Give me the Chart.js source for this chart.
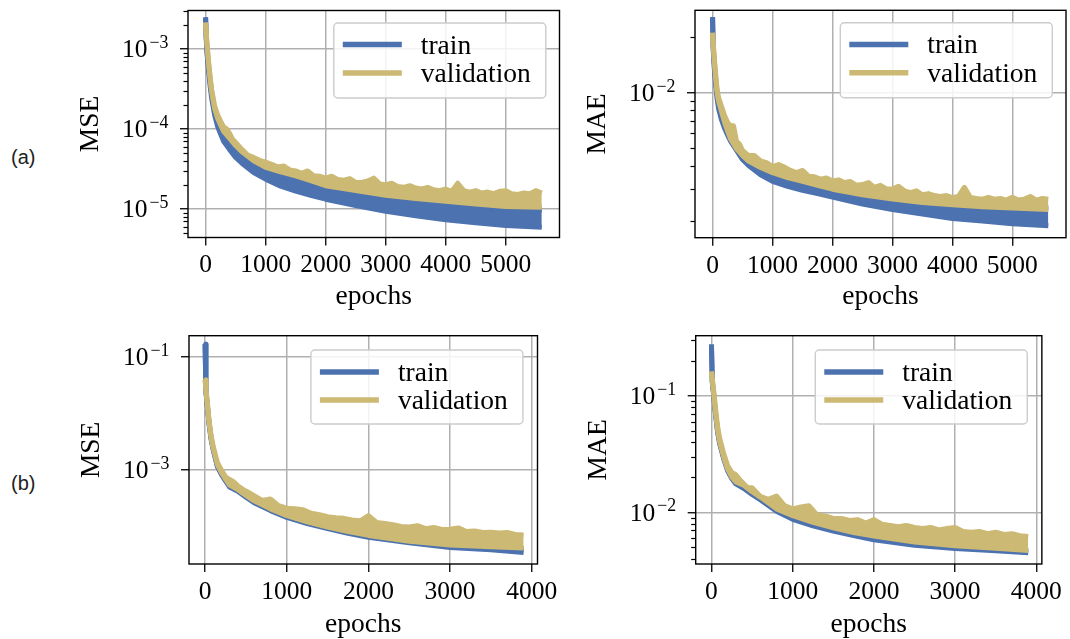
<!DOCTYPE html>
<html>
<head>
<meta charset="utf-8">
<title>training curves</title>
<script src="https://cdn.jsdelivr.net/npm/chart.js@4.4.1/dist/chart.umd.min.js"></script>
<style>
  html, body { margin: 0; padding: 0; background: #ffffff; }
  body { position: relative; width: 1070px; height: 639px; overflow: hidden; }
  canvas { position: absolute; }
  .tag { position: absolute; font-family: "Liberation Sans", sans-serif; font-size: 20px; line-height: 22px; color: #222; }
</style>
</head>
<body>
<div class="tag" style="left:11px; top:146px">(a)</div>
<div class="tag" style="left:11px; top:472px">(b)</div>
<canvas id="mseA" width="575" height="320" style="left:0px; top:0px"></canvas>
<canvas id="maeA" width="495" height="320" style="left:575px; top:0px"></canvas>
<canvas id="mseB" width="575" height="319" style="left:0px; top:320px"></canvas>
<canvas id="maeB" width="495" height="319" style="left:575px; top:320px"></canvas>
<script>
const seriesNames = ["train", "validation"];
const seriesColors = ["#4C72B0", "#CCB974"];

// Each curve is a thick, noisy line. It is kept as the lowest and highest
// course of its centre line, read off the picture, and stroked 5px wide.

// row (a): about 5600 epochs
const epochsA = [0, 10, 25, 50, 75, 100, 150, 200, 250, 300, 400, 500, 600, 800, 1000, 1250, 1500, 1750, 2000, 2500, 3000, 3500, 4000, 4500, 5000, 5600];
const epochsFineA = [0, 10, 25, 50, 75, 100, 150, 200, 250, 300, 350, 400, 450, 500,
  600, 700, 800, 900, 1000, 1100, 1200, 1300, 1400, 1500, 1600, 1700, 1800, 1900, 2000,
  2100, 2200, 2300, 2400, 2500, 2600, 2700, 2800, 2900, 3000, 3100, 3200, 3300, 3400, 3500,
  3600, 3700, 3800, 3900, 4000, 4100, 4200, 4300, 4400, 4500, 4600, 4700, 4800, 4900, 5000,
  5100, 5200, 5300, 5400, 5500, 5600];
const xTicksA = [0, 1000, 2000, 3000, 4000, 5000];

const mseTrainLowA = [2.49e-3, 1.35e-3, 8.6e-4, 5.3e-4, 3.5e-4, 2.45e-4, 1.5e-4, 1.08e-4, 8.6e-5, 7.0e-5, 5.5e-5, 4.4e-5, 3.75e-5, 2.85e-5, 2.35e-5, 1.92e-5, 1.67e-5, 1.48e-5, 1.32e-5, 1.1e-5, 9.3e-6, 8.2e-6, 7.3e-6, 6.7e-6, 6.2e-6, 5.9e-6];
const mseTrainHighA = [2.49e-3, 1.45e-3, 9.2e-4, 5.8e-4, 3.9e-4, 2.7e-4, 1.65e-4, 1.22e-4, 1.0e-4, 8.6e-5, 6.8e-5, 5.5e-5, 4.7e-5, 3.6e-5, 2.95e-5, 2.6e-5, 2.3e-5, 2.05e-5, 1.8e-5, 1.55e-5, 1.36e-5, 1.24e-5, 1.13e-5, 1.06e-5, 1.0e-5, 9.7e-6];
const mseValLowA = [2.1e-3, 1.55e-3, 1.08e-3, 6.6e-4, 4.3e-4, 2.95e-4, 1.8e-4, 1.36e-4, 1.12e-4, 9.3e-5, 7.6e-5, 6.2e-5, 5.2e-5, 4.0e-5, 3.3e-5, 2.9e-5, 2.58e-5, 2.26e-5, 1.95e-5, 1.7e-5, 1.48e-5, 1.35e-5, 1.24e-5, 1.15e-5, 1.07e-5, 1.05e-5];
const mseValHighA = [2.15e-3, 1.65e-3, 1.15e-3, 7.0e-4, 4.6e-4, 3.15e-4, 1.95e-4, 1.5e-4, 1.25e-4, 1.06e-4, 1.0e-4, 8.8e-5, 7.4e-5, 6.8e-5,
  5.6e-5, 4.7e-5, 4.4e-5, 4.05e-5, 3.85e-5, 3.6e-5, 3.35e-5, 3.44e-5, 3.07e-5, 2.98e-5, 2.79e-5, 2.98e-5, 2.6e-5, 2.56e-5, 2.42e-5,
  2.56e-5, 2.33e-5, 2.28e-5, 2.39e-5, 2.14e-5, 2.14e-5, 2.23e-5, 2.42e-5, 2.05e-5, 2.0e-5, 2.09e-5, 1.91e-5, 1.86e-5, 1.95e-5, 1.82e-5,
  1.77e-5, 1.86e-5, 1.73e-5, 1.69e-5, 1.77e-5, 1.66e-5, 2.09e-5, 1.69e-5, 1.62e-5, 1.69e-5, 1.58e-5, 1.62e-5, 1.55e-5, 1.66e-5, 1.69e-5,
  1.55e-5, 1.51e-5, 1.58e-5, 1.55e-5, 1.69e-5, 1.58e-5];

const maeTrainLowA = [2.57e-2, 1.72e-2, 1.4e-2, 1.12e-2, 9.3e-3, 8.2e-3, 7.1e-3, 6.4e-3, 5.9e-3, 5.45e-3, 4.85e-3, 4.33e-3, 4.02e-3, 3.58e-3, 3.3e-3, 3.1e-3, 2.95e-3, 2.83e-3, 2.71e-3, 2.48e-3, 2.32e-3, 2.19e-3, 2.07e-3, 2.01e-3, 1.94e-3, 1.89e-3];
const maeTrainHighA = [2.57e-2, 1.8e-2, 1.5e-2, 1.18e-2, 9.8e-3, 8.6e-3, 7.5e-3, 6.8e-3, 6.2e-3, 5.8e-3, 5.1e-3, 4.6e-3, 4.3e-3, 3.95e-3, 3.7e-3, 3.5e-3, 3.35e-3, 3.2e-3, 3.05e-3, 2.83e-3, 2.68e-3, 2.57e-3, 2.5e-3, 2.45e-3, 2.4e-3, 2.36e-3];
const maeValLowA = [2.08e-2, 1.82e-2, 1.55e-2, 1.22e-2, 1.0e-2, 9.0e-3, 7.9e-3, 6.9e-3, 6.2e-3, 5.6e-3, 4.95e-3, 4.55e-3, 4.25e-3, 3.92e-3, 3.68e-3, 3.46e-3, 3.3e-3, 3.14e-3, 2.99e-3, 2.79e-3, 2.64e-3, 2.53e-3, 2.46e-3, 2.4e-3, 2.36e-3, 2.32e-3];
const maeValHighA = [2.12e-2, 1.88e-2, 1.61e-2, 1.28e-2, 1.05e-2, 9.4e-3, 8.4e-3, 7.5e-3, 6.9e-3, 6.6e-3, 6.6e-3, 5.45e-3, 5.25e-3, 4.85e-3,
  4.55e-3, 4.55e-3, 4.26e-3, 4.17e-3, 3.97e-3, 4.07e-3, 3.94e-3, 3.78e-3, 3.68e-3, 3.78e-3, 3.52e-3, 3.49e-3, 3.39e-3, 3.44e-3, 3.31e-3,
  3.36e-3, 3.25e-3, 3.29e-3, 3.14e-3, 3.17e-3, 3.25e-3, 3.06e-3, 3.14e-3, 3.0e-3, 3.0e-3, 3.1e-3, 2.93e-3, 2.86e-3, 2.93e-3, 2.79e-3,
  2.83e-3, 2.76e-3, 2.73e-3, 2.76e-3, 2.69e-3, 2.73e-3, 3.06e-3, 2.7e-3, 2.66e-3, 2.64e-3, 2.7e-3, 2.64e-3, 2.66e-3, 2.61e-3, 2.7e-3,
  2.61e-3, 2.64e-3, 2.73e-3, 2.61e-3, 2.66e-3, 2.64e-3];

// row (b): about 3900 epochs
const epochsB = [0, 10, 25, 50, 75, 100, 150, 200, 250, 300, 400, 500, 600, 800, 1000, 1250, 1500, 1750, 2000, 2500, 3000, 3500, 3900];
const epochsFineB = [0, 10, 25, 50, 75, 100, 150, 200, 250, 300, 350, 400, 450, 500,
  600, 700, 800, 900, 1000, 1100, 1200, 1300, 1400, 1500, 1600, 1700, 1800, 1900, 2000,
  2100, 2200, 2300, 2400, 2500, 2600, 2700, 2800, 2900, 3000, 3100, 3200, 3300, 3400, 3500,
  3600, 3700, 3800, 3900];
const xTicksB = [0, 1000, 2000, 3000, 4000];

const mseTrainLowB = [1.66e-1, 2.4e-2, 1.45e-2, 6.2e-3, 3.4e-3, 2.25e-3, 1.15e-3, 8.3e-4, 6.4e-4, 5.0e-4, 4.2e-4, 3.3e-4, 2.65e-4, 1.92e-4, 1.46e-4, 1.13e-4, 9.2e-5, 7.6e-5, 6.5e-5, 5.2e-5, 4.3e-5, 3.9e-5, 3.5e-5];
const mseTrainHighB = [1.66e-1, 2.5e-2, 1.5e-2, 6.5e-3, 3.5e-3, 2.35e-3, 1.2e-3, 8.7e-4, 6.7e-4, 5.3e-4, 4.4e-4, 3.5e-4, 2.8e-4, 2.02e-4, 1.53e-4, 1.2e-4, 9.6e-5, 8.0e-5, 6.85e-5, 5.4e-5, 4.65e-5, 4.3e-5, 4.1e-5];
const mseValLowB = [3.9e-2, 2.6e-2, 1.55e-2, 6.7e-3, 3.6e-3, 2.4e-3, 1.24e-3, 9.0e-4, 6.9e-4, 5.4e-4, 4.5e-4, 3.55e-4, 2.85e-4, 2.06e-4, 1.56e-4, 1.22e-4, 9.8e-5, 8.2e-5, 7.0e-5, 5.5e-5, 4.75e-5, 4.4e-5, 4.2e-5];
const mseValHighB = [3.9e-2, 2.8e-2, 1.7e-2, 7.3e-3, 4.0e-3, 2.6e-3, 1.36e-3, 1.0e-3, 7.6e-4, 6.8e-4, 6.2e-4, 5.25e-4, 4.7e-4, 4.25e-4,
  3.53e-4, 2.9e-4, 3.07e-4, 2.35e-4, 2.12e-4, 2.08e-4, 1.99e-4, 1.72e-4, 1.63e-4, 1.5e-4, 1.43e-4, 1.4e-4, 1.31e-4, 1.27e-4, 1.57e-4,
  1.19e-4, 1.14e-4, 1.08e-4, 1.01e-4, 9.9e-5, 1.04e-4, 9.2e-5, 9.7e-5, 8.9e-5, 9.0e-5, 9.5e-5, 8.2e-5, 8.4e-5, 7.9e-5, 8.0e-5,
  7.7e-5, 7.9e-5, 7.3e-5, 7.1e-5];

const maeTrainLowB = [2.75e-1, 1.3e-1, 1.04e-1, 6.9e-2, 4.9e-2, 3.9e-2, 2.88e-2, 2.26e-2, 1.95e-2, 1.75e-2, 1.6e-2, 1.42e-2, 1.28e-2, 1.02e-2, 8.7e-3, 7.65e-3, 6.9e-3, 6.3e-3, 5.8e-3, 5.2e-3, 4.88e-3, 4.67e-3, 4.5e-3];
const maeTrainHighB = [2.75e-1, 1.34e-1, 1.07e-1, 7.1e-2, 5.0e-2, 4.0e-2, 2.95e-2, 2.3e-2, 1.98e-2, 1.8e-2, 1.67e-2, 1.48e-2, 1.33e-2, 1.05e-2, 9.2e-3, 8.1e-3, 7.25e-3, 6.6e-3, 6.2e-3, 5.5e-3, 5.1e-3, 4.85e-3, 4.65e-3];
const maeValLowB = [1.61e-1, 1.35e-1, 1.08e-1, 7.2e-2, 5.1e-2, 4.05e-2, 2.98e-2, 2.33e-2, 2.0e-2, 1.82e-2, 1.7e-2, 1.5e-2, 1.35e-2, 1.07e-2, 9.35e-3, 8.2e-3, 7.35e-3, 6.7e-3, 6.26e-3, 5.57e-3, 5.15e-3, 4.91e-3, 4.69e-3];
const maeValHighB = [1.61e-1, 1.41e-1, 1.16e-1, 7.8e-2, 5.5e-2, 4.35e-2, 3.2e-2, 2.5e-2, 2.2e-2, 2.1e-2, 1.9e-2, 1.75e-2, 1.62e-2, 1.62e-2,
  1.37e-2, 1.29e-2, 1.38e-2, 1.14e-2, 1.07e-2, 1.11e-2, 1.14e-2, 9.5e-3, 9.3e-3, 8.85e-3, 8.85e-3, 8.5e-3, 8.65e-3, 8.1e-3, 8.65e-3,
  7.9e-3, 7.7e-3, 7.5e-3, 7.7e-3, 7.4e-3, 7.25e-3, 7.4e-3, 7.05e-3, 7.25e-3, 7.4e-3, 6.85e-3, 6.75e-3, 6.85e-3, 6.55e-3, 6.75e-3,
  6.45e-3, 6.55e-3, 6.3e-3, 6.2e-3];

const SERIF = '"Liberation Serif", "Times New Roman", serif';
const DIGIT = 25.5;
const WORD = 27.5;

const pts = (xs, ys) => xs.map((x, i) => ({ x: x, y: ys[i] }));

const band = (xs, ys, color, fill) => ({
  data: pts(xs, ys),
  borderColor: color,
  backgroundColor: color,
  borderWidth: 5,
  borderCapStyle: "butt",
  borderJoinStyle: "round",
  pointRadius: 0,
  tension: 0,
  fill: fill,
});

// frame, minor ticks, 10^n labels and the boxed legend
const framePlugin = {
  id: "frame",
  afterDatasetsDraw(chart, args, o) {
    const { ctx, chartArea: a } = chart;
    const y = chart.scales.y;
    ctx.save();
    ctx.strokeStyle = "#000";
    ctx.lineWidth = 1.2;
    y.ticks.forEach((t) => {
      if (t.major) return;
      const py = Math.round(y.getPixelForValue(t.value)) + 0.5;
      ctx.beginPath();
      ctx.moveTo(a.left - 4.5, py);
      ctx.lineTo(a.left, py);
      ctx.stroke();
    });
    ctx.lineWidth = 1.4;
    ctx.strokeRect(a.left, a.top, a.right - a.left, a.bottom - a.top);

    ctx.fillStyle = "#000";
    ctx.textAlign = "right";
    ctx.textBaseline = "alphabetic";
    y.ticks.forEach((t) => {
      if (!t.major) return;
      const e = Math.round(Math.log10(t.value));
      const base = y.getPixelForValue(t.value) + 0.33 * DIGIT;
      const sup = (e < 0 ? "\u2212" : "") + Math.abs(e);
      const right = a.left - 19.5;
      ctx.font = 0.7 * DIGIT + "px " + SERIF;
      const w = ctx.measureText(sup).width;
      ctx.fillText(sup, right, base - 0.37 * DIGIT);
      ctx.font = DIGIT + "px " + SERIF;
      ctx.fillText("10", right - w - 2, base);
    });

    const L = o.legend;
    const bx = a.right - L.right - L.width;
    const by = a.top + L.top;
    ctx.beginPath();
    if (ctx.roundRect) ctx.roundRect(bx, by, L.width, L.height, 4);
    else ctx.rect(bx, by, L.width, L.height);
    ctx.fillStyle = "rgba(255,255,255,0.85)";
    ctx.fill();
    ctx.strokeStyle = "#cccccc";
    ctx.lineWidth = 1.4;
    ctx.stroke();
    ctx.textAlign = "left";
    ctx.font = WORD + "px " + SERIF;
    seriesNames.forEach((name, i) => {
      const ly = by + L.rows[i];
      ctx.strokeStyle = seriesColors[i];
      ctx.lineWidth = 5.5;
      ctx.lineCap = "butt";
      ctx.beginPath();
      ctx.moveTo(bx + 9, ly);
      ctx.lineTo(bx + 68, ly);
      ctx.stroke();
      ctx.fillStyle = "#000";
      ctx.fillText(name, bx + 87, ly + 0.33 * WORD);
    });
    ctx.restore();
  },
};

const drawPanel = (id, p) => {
  const yTicks = p.yMajor.map((v) => ({ value: v, major: true }));
  if (p.minor) {
    for (let e = Math.floor(Math.log10(p.yMin)); e <= Math.ceil(Math.log10(p.yMax)); e++) {
      for (let k = 2; k <= 9; k++) {
        const v = k * Math.pow(10, e);
        if (v >= p.yMin && v <= p.yMax) yTicks.push({ value: v, major: false });
      }
    }
  }
  yTicks.sort((a, b) => a.value - b.value);
  const titleFont = { family: SERIF, size: WORD, lineHeight: 1 };

  new Chart(document.getElementById(id), {
    type: "line",
    data: {
      datasets: [
        band(p.epochsFine, p.valHigh, seriesColors[1], "+1"),
        band(p.epochs, p.valLow, seriesColors[1], false),
        band(p.epochs, p.trainHigh, seriesColors[0], "+1"),
        band(p.epochs, p.trainLow, seriesColors[0], false),
      ],
    },
    options: {
      responsive: false,
      animation: false,
      devicePixelRatio: 1,
      events: [],
      layout: { padding: p.pad, autoPadding: false },
      plugins: {
        legend: { display: false },
        tooltip: { enabled: false },
        frame: { legend: p.legend },
      },
      scales: {
        x: {
          type: "linear",
          bounds: "data",
          min: p.xMin,
          max: p.xMax,
          afterBuildTicks: (s) => { s.ticks = p.xTicks.map((v) => ({ value: v })); },
          afterFit: (s) => { s.height = p.xAxisH; },
          ticks: {
            autoSkip: false,
            maxRotation: 0,
            padding: p.xTickPad,
            color: "#000",
            font: { family: SERIF, size: DIGIT, lineHeight: 1 },
            callback: (v) => String(v),
          },
          grid: { color: "#b0b0b0", lineWidth: 1.5, tickLength: 8, tickColor: "#000", tickWidth: 1.3 },
          border: { display: false },
          title: { display: true, text: "epochs", color: "#000", font: titleFont, padding: { top: 0, bottom: p.xTitlePad } },
        },
        y: {
          type: "logarithmic",
          bounds: "data",
          min: p.yMin,
          max: p.yMax,
          afterBuildTicks: (s) => { s.ticks = yTicks.map((t) => ({ value: t.value, major: t.major })); },
          afterFit: (s) => { s.width = p.yAxisW; },
          ticks: { display: false, autoSkip: false },
          grid: {
            color: (c) => (c.tick && c.tick.major ? "#b0b0b0" : "rgba(0,0,0,0)"),
            lineWidth: 1.5,
            tickLength: 8,
            tickColor: (c) => (c.tick && c.tick.major ? "#000" : "rgba(0,0,0,0)"),
            tickWidth: 1.3,
          },
          border: { display: false },
          title: { display: true, text: p.yTitle, color: "#000", font: titleFont, padding: { top: p.yTitlePad, bottom: 0 } },
        },
      },
    },
    plugins: [framePlugin],
  });
};

drawPanel("mseA", {
  epochs: epochsA, epochsFine: epochsFineA, xTicks: xTicksA,
  trainLow: mseTrainLowA, trainHigh: mseTrainHighA, valLow: mseValLowA, valHigh: mseValHighA,
  xMin: -293, xMax: 5895, yMin: 4.38e-6, yMax: 3.03e-3, yMajor: [1e-5, 1e-4, 1e-3], minor: true,
  yTitle: "MSE",
  pad: { left: 0, top: 10.5, right: 15.5, bottom: 0 }, yAxisW: 188, xAxisH: 82.5,
  yTitlePad: 77, xTitlePad: 9, xTickPad: 7.5,
  legend: { right: 13.7, top: 12.5, width: 212, height: 75, rows: [21.6, 50] },
});

drawPanel("maeA", {
  epochs: epochsA, epochsFine: epochsFineA, xTicks: xTicksA,
  trainLow: maeTrainLowA, trainHigh: maeTrainHighA, valLow: maeValLowA, valHigh: maeValHighA,
  xMin: -293, xMax: 5895, yMin: 1.63e-3, yMax: 2.8e-2, yMajor: [1e-2], minor: true,
  yTitle: "MAE",
  pad: { left: 0, top: 10.3, right: 4, bottom: 0 }, yAxisW: 120, xAxisH: 82.3,
  yTitlePad: 9.5, xTitlePad: 9, xTickPad: 7.5,
  legend: { right: 13.7, top: 12.5, width: 212, height: 75, rows: [21.6, 50] },
});

drawPanel("mseB", {
  epochs: epochsB, epochsFine: epochsFineB, xTicks: xTicksB,
  trainLow: mseTrainLowB, trainHigh: mseTrainHighB, valLow: mseValLowB, valHigh: mseValHighB,
  xMin: -197, xMax: 4070, yMin: 2.19e-5, yMax: 0.235, yMajor: [1e-3, 1e-1], minor: false,
  yTitle: "MSE",
  pad: { left: 0, top: 15.7, right: 37.5, bottom: 0 }, yAxisW: 189, xAxisH: 75,
  yTitlePad: 78, xTitlePad: 0.5, xTickPad: 7.8,
  legend: { right: 14.6, top: 14.3, width: 212, height: 74, rows: [22, 50] },
});

drawPanel("maeB", {
  epochs: epochsB, epochsFine: epochsFineB, xTicks: xTicksB,
  trainLow: maeTrainLowB, trainHigh: maeTrainHighB, valLow: maeValLowB, valHigh: maeValHighB,
  xMin: -194, xMax: 4068, yMin: 3.6e-3, yMax: 0.327, yMajor: [1e-2, 1e-1], minor: true,
  yTitle: "MAE",
  pad: { left: 0, top: 15.7, right: 22.7, bottom: 0 }, yAxisW: 120.7, xAxisH: 75,
  yTitlePad: 10, xTitlePad: 0.5, xTickPad: 7.8,
  legend: { right: 14.6, top: 14.3, width: 212, height: 74, rows: [22, 50] },
});
</script>
</body>
</html>
